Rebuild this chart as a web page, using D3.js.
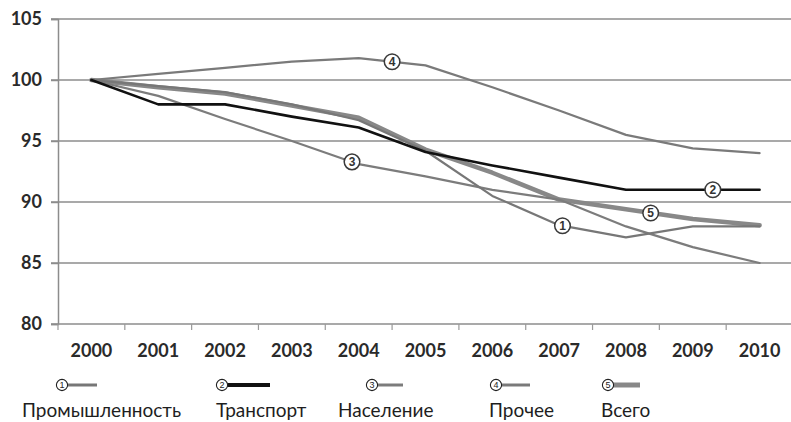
<!DOCTYPE html>
<html>
<head>
<meta charset="utf-8">
<script src="https://cdn.jsdelivr.net/npm/d3@7/dist/d3.min.js"></script>
<style>
  html, body { margin: 0; padding: 0; background: #fff; }
  svg { display: block; font-family: Lato, "Open Sans", "DejaVu Sans", sans-serif; }
</style>
</head>
<body>
<svg id="chart" width="791" height="422"></svg>
<script>
// Индексы потребления, 2000 = 100
const years = ["2000", "2001", "2002", "2003", "2004", "2005", "2006", "2007", "2008", "2009", "2010"];
const yTicks = [80, 85, 90, 95, 100, 105];

const promyshlennost = [100, 99.5, 99, 98, 96.7, 94.2, 90.5, 88.1, 87.1, 88, 88];
const transport      = [100, 98, 98, 97, 96.1, 94.1, 93, 92, 91, 91, 91];
const naselenie      = [100, 98.7, 96.8, 95, 93.1, 92.1, 91, 90.2, 88, 86.3, 85];
const prochee        = [100, 100.5, 101, 101.5, 101.8, 101.2, 99.4, 97.5, 95.5, 94.4, 94];
const vsego          = [100, 99.4, 98.9, 97.9, 96.9, 94.3, 92.4, 90.2, 89.4, 88.6, 88.1];

const seriesNames = ["Промышленность", "Транспорт", "Население", "Прочее", "Всего"];
const seriesNums  = ["1", "2", "3", "4", "5"];
// position of the circled number along each line (in year-index units)
const markerAt    = [7.05, 9.3, 3.9, 4.5, 8.37];

const series = [promyshlennost, transport, naselenie, prochee, vsego];
const styles = [
  { color: "#777777", width: 2.2 },
  { color: "#111111", width: 2.6 },
  { color: "#7c7c7c", width: 2.2 },
  { color: "#7a7a7a", width: 2.2 },
  { color: "#888888", width: 4.5 }
];

const svg = d3.select("#chart");
const plotLeft = 58, plotRight = 793, plotTop = 19, plotBottom = 324;

const x = d3.scaleBand().domain(years).range([plotLeft, plotRight]).padding(0);
const y = d3.scaleLinear().domain([80, 105]).range([plotBottom, plotTop]);
const cx = i => x(years[i]) + x.bandwidth() / 2;

// horizontal gridlines
svg.append("g")
  .selectAll("line")
  .data(yTicks.filter(v => v !== 80))
  .join("line")
  .attr("x1", plotLeft - 7).attr("x2", 791)
  .attr("y1", d => y(d)).attr("y2", d => y(d))
  .attr("stroke", "#8c8c8c").attr("stroke-width", 1.5);

// y axis
const yAxis = svg.append("g")
  .attr("transform", `translate(${plotLeft},0)`)
  .call(d3.axisLeft(y).tickValues(yTicks).tickSize(7).tickPadding(9).tickFormat(d3.format("d")));
yAxis.select(".domain").attr("stroke", "#8c8c8c").attr("stroke-width", 1.5);
yAxis.selectAll(".tick line").attr("stroke", "#8c8c8c").attr("stroke-width", 1.5);
yAxis.selectAll(".tick text")
  .attr("font-size", 18).attr("font-weight", "bold").attr("fill", "#2a2a2a")
  .attr("font-family", "Lato, 'Open Sans', sans-serif");

// x axis baseline and category separators
svg.append("line")
  .attr("x1", plotLeft - 7).attr("x2", 791)
  .attr("y1", plotBottom).attr("y2", plotBottom)
  .attr("stroke", "#8c8c8c").attr("stroke-width", 1.5);

svg.append("g")
  .selectAll("line")
  .data(years)
  .join("line")
  .attr("x1", d => x(d)).attr("x2", d => x(d))
  .attr("y1", plotBottom).attr("y2", plotBottom + 6)
  .attr("stroke", "#9a9a9a").attr("stroke-width", 1.2);

const xAxis = svg.append("g")
  .attr("transform", `translate(0,${plotBottom})`)
  .call(d3.axisBottom(x).tickSize(0).tickPadding(20));
xAxis.select(".domain").remove();
xAxis.selectAll(".tick text")
  .attr("font-size", 18).attr("font-weight", "bold").attr("fill", "#2a2a2a")
  .attr("font-family", "Lato, 'Open Sans', sans-serif");

// lines
const line = d3.line()
  .x((d, i) => cx(i))
  .y(d => y(d));

const lineG = svg.append("g");
// draw thick total first so the others sit on top of it
[4, 3, 2, 0, 1].forEach(k => {
  lineG.append("path")
    .datum(series[k])
    .attr("d", line)
    .attr("fill", "none")
    .attr("stroke", styles[k].color)
    .attr("stroke-width", styles[k].width)
    .attr("stroke-linejoin", "round")
    .attr("stroke-linecap", "round");
});

// circled numbers placed on their lines
function valueAt(arr, t) {
  const i = Math.floor(t), f = t - i;
  if (i >= arr.length - 1) return arr[arr.length - 1];
  return arr[i] + (arr[i + 1] - arr[i]) * f;
}
const xAt = t => cx(0) + t * x.step();

const markG = svg.append("g");
series.forEach((arr, k) => {
  const mx = xAt(markerAt[k]), my = y(valueAt(arr, markerAt[k]));
  const g = markG.append("g").attr("transform", `translate(${mx},${my})`);
  g.append("circle").attr("r", 7.8).attr("fill", "#fff")
    .attr("stroke", "#3a3a3a").attr("stroke-width", 1.5);
  g.append("text").attr("text-anchor", "middle").attr("dy", "0.36em")
    .attr("font-size", 12).attr("font-weight", "bold").attr("fill", "#333")
    .attr("font-family", "'Liberation Sans', Arial, sans-serif")
    .text(seriesNums[k]);
});

// legend
const legendLayout = [
  { cx: 62,  x2: 97,  lx: 22 },
  { cx: 222, x2: 270, lx: 216 },
  { cx: 372, x2: 403, lx: 338 },
  { cx: 496, x2: 530, lx: 489 },
  { cx: 608, x2: 640, lx: 601 }
];
const legendLineW = [3, 4, 3, 3, 5];
const legG = svg.append("g");
legendLayout.forEach((p, k) => {
  const g = legG.append("g");
  g.append("line")
    .attr("x1", p.cx + 4).attr("x2", p.x2)
    .attr("y1", 385).attr("y2", 385)
    .attr("stroke", styles[k].color).attr("stroke-width", legendLineW[k]);
  g.append("circle").attr("cx", p.cx).attr("cy", 385).attr("r", 5.6)
    .attr("fill", "#fff").attr("stroke", "#222").attr("stroke-width", 1.1);
  g.append("text").attr("x", p.cx).attr("y", 385).attr("dy", "0.36em")
    .attr("text-anchor", "middle").attr("font-size", 9).attr("fill", "#222")
    .attr("font-family", "'Liberation Sans', Arial, sans-serif")
    .text(seriesNums[k]);
  g.append("text").attr("x", p.lx).attr("y", 417)
    .attr("font-size", 19).attr("fill", "#1e1e1e")
    .attr("font-family", "Lato, 'Open Sans', sans-serif")
    .text(seriesNames[k]);
});
</script>
</body>
</html>
